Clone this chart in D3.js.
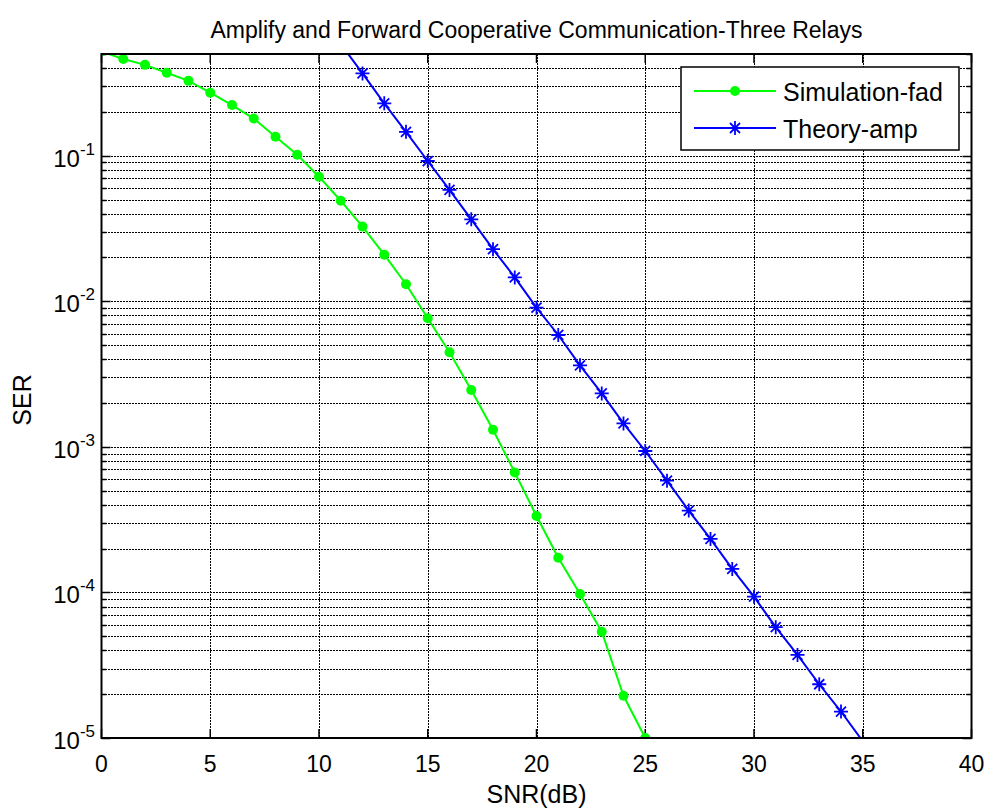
<!DOCTYPE html>
<html>
<head>
<meta charset="utf-8">
<script src="https://cdn.jsdelivr.net/npm/d3@7"></script>
<style>
  body { margin: 0; background: #fff; }
  text { font-family: Arial, "Liberation Sans", Helvetica, sans-serif; fill: #000; }
</style>
</head>
<body>
<svg id="chart" width="986" height="811"></svg>
<script>
// SNR in dB for each series
const snrFad = [0, 1, 2, 3, 4, 5, 6, 7, 8, 9, 10, 11, 12, 13, 14, 15, 16, 17, 18, 19, 20, 21, 22, 23, 24, 25];
const serFad = [0.52, 0.462, 0.421, 0.372, 0.327, 0.271, 0.223, 0.180, 0.135, 0.1016, 0.0718, 0.0491,
    0.0326, 0.0209, 0.0131, 0.00764, 0.00447, 0.00246, 0.00131, 0.000668, 0.000335, 0.000173,
    0.0000975, 0.0000537, 0.0000195, 0.00001];

const snrAmp = [11, 12, 13, 14, 15, 16, 17, 18, 19, 20, 21, 22, 23, 24, 25, 26, 27, 28, 29, 30, 31, 32, 33, 34, 35];
const serAmp = [0.586, 0.368, 0.229, 0.146, 0.0920, 0.0582, 0.0366, 0.0228, 0.0146, 0.00904, 0.00587,
    0.00363, 0.00233, 0.00145, 0.000937, 0.000586, 0.000365, 0.000233, 0.000145, 0.0000935,
    0.0000577, 0.0000372, 0.0000234, 0.0000152, 0.0000095];

const xTicks = [0, 5, 10, 15, 20, 25, 30, 35, 40];
const yDecades = [-5, -4, -3, -2, -1];
const seriesNames = ["Simulation-fad", "Theory-amp"];

let pLeft = 101.5, pRight = 971.5, pTop = 54, pBottom = 738;
let svg = d3.select("#chart");
svg.append("rect").attr("width", 986).attr("height", 811).attr("fill", "#fff");

let x = d3.scaleLinear().domain([0, 40]).range([pLeft, pRight]);
let y = d3.scaleLog().domain([1e-5, 0.5]).range([pBottom, pTop]);
let px = v => Math.round(v) + 0.5;

// minor log ticks 2..9 of every decade inside the range
let minorVals = [];
for (let e = -5; e <= -1; e++) {
    for (let m = 2; m <= 9; m++) {
        let v = m * Math.pow(10, e);
        if (v <= 0.5) minorVals.push(v);
    }
}
let majorVals = yDecades.map(e => Math.pow(10, e));

// dotted grid
let grid = svg.append("g").attr("stroke", "#000").attr("stroke-width", 1)
    .attr("stroke-dasharray", "2,1").attr("shape-rendering", "crispEdges");
grid.selectAll(".gx").data(xTicks.slice(1, -1)).join("line")
    .attr("x1", d => px(x(d))).attr("x2", d => px(x(d))).attr("y1", pTop).attr("y2", pBottom);
grid.selectAll(".gy").data(majorVals.slice(1).concat(minorVals)).join("line")
    .attr("y1", d => px(y(d))).attr("y2", d => px(y(d))).attr("x1", pLeft).attr("x2", pRight);

// tick marks (inward, both sides)
let ticks = svg.append("g").attr("stroke", "#000").attr("stroke-width", 1.5);
xTicks.forEach(t => {
    ticks.append("line").attr("x1", x(t)).attr("x2", x(t)).attr("y1", pBottom).attr("y2", pBottom - 9);
    ticks.append("line").attr("x1", x(t)).attr("x2", x(t)).attr("y1", pTop).attr("y2", pTop + 9);
});
majorVals.forEach(v => {
    ticks.append("line").attr("y1", px(y(v))).attr("y2", px(y(v))).attr("x1", pLeft).attr("x2", pLeft + 9);
    ticks.append("line").attr("y1", px(y(v))).attr("y2", px(y(v))).attr("x1", pRight).attr("x2", pRight - 9);
});
minorVals.forEach(v => {
    ticks.append("line").attr("y1", px(y(v))).attr("y2", px(y(v))).attr("x1", pLeft).attr("x2", pLeft + 5);
    ticks.append("line").attr("y1", px(y(v))).attr("y2", px(y(v))).attr("x1", pRight).attr("x2", pRight - 5);
});

// clip for the data
svg.append("clipPath").attr("id", "plotclip").append("rect")
    .attr("x", pLeft).attr("y", pTop).attr("width", pRight - pLeft).attr("height", pBottom - pTop);
let plot = svg.append("g").attr("clip-path", "url(#plotclip)");

let fad = snrFad.map((s, i) => ({ s: s, v: serFad[i] }));
let amp = snrAmp.map((s, i) => ({ s: s, v: serAmp[i] }));
let line = d3.line().x(d => x(d.s)).y(d => y(d.v));

plot.append("path").datum(fad).attr("d", line)
    .attr("fill", "none").attr("stroke", "#00ff00").attr("stroke-width", 2);
plot.selectAll(".dot").data(fad).join("circle")
    .attr("cx", d => x(d.s)).attr("cy", d => y(d.v)).attr("r", 5).attr("fill", "#00ff00");

plot.append("path").datum(amp).attr("d", line)
    .attr("fill", "none").attr("stroke", "#0000ff").attr("stroke-width", 2);

function star(g, cx, cy) {
    let a = 7, b = 5;
    g.append("path")
        .attr("d", `M${cx - a},${cy}H${cx + a}M${cx},${cy - a}V${cy + a}` +
            `M${cx - b},${cy - b}L${cx + b},${cy + b}M${cx - b},${cy + b}L${cx + b},${cy - b}`)
        .attr("stroke", "#0000ff").attr("stroke-width", 1.8).attr("fill", "none");
}
amp.filter(d => d.v >= 1e-5 && d.v <= 0.5).forEach(d => star(plot, x(d.s), y(d.v)));

// axes box
svg.append("rect").attr("x", pLeft).attr("y", pTop).attr("width", pRight - pLeft).attr("height", pBottom - pTop)
    .attr("fill", "none").attr("stroke", "#000").attr("stroke-width", 2);

// tick labels
svg.selectAll(".xl").data(xTicks).join("text")
    .attr("x", d => x(d)).attr("y", 772).attr("text-anchor", "middle")
    .attr("font-size", 23).text(d => d);

yDecades.forEach(e => {
    let t = svg.append("text").attr("x", 95).attr("y", y(Math.pow(10, e)) + 11)
        .attr("text-anchor", "end").attr("font-size", 24);
    t.append("tspan").text("10");
    t.append("tspan").attr("dy", -12).attr("font-size", 17).text("-" + (-e));
});

// title and axis labels
svg.append("text").attr("x", (pLeft + pRight) / 2).attr("y", 38).attr("text-anchor", "middle")
    .attr("font-size", 23).text("Amplify and Forward Cooperative Communication-Three Relays");
svg.append("text").attr("x", (pLeft + pRight) / 2).attr("y", 803).attr("text-anchor", "middle")
    .attr("font-size", 25).text("SNR(dB)");
svg.append("text").attr("transform", "translate(31,400) rotate(-90)").attr("text-anchor", "middle")
    .attr("font-size", 25).text("SER");

// legend
let lg = svg.append("g");
lg.append("rect").attr("x", 681).attr("y", 67).attr("width", 278).attr("height", 83)
    .attr("fill", "#fff").attr("stroke", "#000").attr("stroke-width", 1.5);
lg.append("line").attr("x1", 694).attr("x2", 776).attr("y1", 91).attr("y2", 91)
    .attr("stroke", "#00ff00").attr("stroke-width", 2);
lg.append("circle").attr("cx", 735).attr("cy", 91).attr("r", 5).attr("fill", "#00ff00");
lg.append("line").attr("x1", 694).attr("x2", 776).attr("y1", 128).attr("y2", 128)
    .attr("stroke", "#0000ff").attr("stroke-width", 2);
star(lg, 735, 128);
lg.append("text").attr("x", 783).attr("y", 101).attr("font-size", 25).text(seriesNames[0]);
lg.append("text").attr("x", 783).attr("y", 138).attr("font-size", 25).text(seriesNames[1]);
</script>
</body>
</html>
